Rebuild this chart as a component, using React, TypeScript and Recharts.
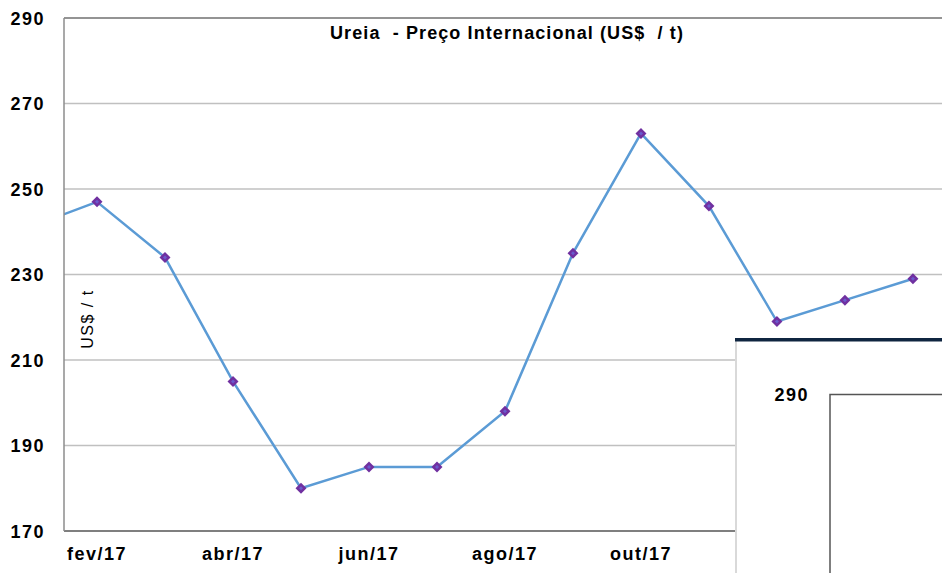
import React from "react";
import { LineChart, Line, XAxis, YAxis, CartesianGrid, ReferenceLine } from "recharts";

const months = ["jan/17", "fev/17", "mar/17", "abr/17", "mai/17", "jun/17", "jul/17", "ago/17", "set/17", "out/17", "nov/17", "dez/17", "jan/18", "fev/18"];
const prices = [241, 247, 234, 205, 180, 185, 185, 198, 235, 263, 246, 219, 224, 229];
const yTicks = [170, 190, 210, 230, 250, 270, 290];
const xTickIdx = [1, 3, 5, 7, 9, 11, 13];
const title = "Ureia  - Preço Internacional (US$  / t)";
const yLabel = "US$ / t";
const insetTick = "290";

const data = months.map((m, i) => ({ idx: i, month: m, price: prices[i] }));

const FONT = "'Liberation Sans', Arial, Helvetica, sans-serif";

const YTick = (props: any) => {
  const { x, y, payload } = props;
  return (
    <text x={x} y={y} dy={6.5} textAnchor="end" fontFamily={FONT} fontSize={18} fontWeight="bold" fill="#000" letterSpacing={1.5}>
      {payload.value}
    </text>
  );
};

const XTick = (props: any) => {
  const { x, y, payload } = props;
  return (
    <text x={x} y={y} dy={13} textAnchor="middle" fontFamily={FONT} fontSize={18} fontWeight="bold" fill="#000" letterSpacing={1.5}>
      {months[payload.value]}
    </text>
  );
};

const Diamond = (props: any) => {
  const { cx, cy, index } = props;
  if (cx == null || cy == null) return <g key={`d-${index}`} />;
  const r = 5.5;
  const r2 = 2;
  return (
    <g key={`d-${index}`}>
      <path d={`M${cx},${cy - r}L${cx + r},${cy}L${cx},${cy + r}L${cx - r},${cy}Z`} fill="#7030a0" />
      <path d={`M${cx},${cy - r2}L${cx + r2},${cy}L${cx},${cy + r2}L${cx - r2},${cy}Z`} fill="#6a5acd" />
    </g>
  );
};

export default function App() {
  return (
    <div style={{ position: "absolute", left: 0, top: 0, width: 942, height: 573, overflow: "hidden", background: "#fff" }}>
      <LineChart width={942} height={573} data={data} margin={{ top: 18, right: 0, bottom: 12, left: 0 }}>
        <CartesianGrid vertical={false} stroke="#c0c0c0" strokeWidth={1.5} />
        <XAxis
          type="number"
          dataKey="idx"
          domain={[0.515, 13.427]}
          allowDataOverflow
          ticks={xTickIdx}
          tick={<XTick />}
          tickLine={false}
          tickSize={0}
          tickMargin={16}
          height={30}
          axisLine={{ stroke: "#7f7f7f", strokeWidth: 2 }}
          interval={0}
        />
        <YAxis
          type="number"
          domain={[170, 290]}
          ticks={yTicks}
          tick={<YTick />}
          tickLine={false}
          tickSize={0}
          tickMargin={19}
          width={64}
          axisLine={{ stroke: "#8c8c8c", strokeWidth: 1.5 }}
          interval={0}
        />
        <ReferenceLine y={290} stroke="#808080" strokeWidth={1.5} />
        <Line
          type="linear"
          dataKey="price"
          stroke="#5b9bd5"
          strokeWidth={2.5}
          dot={<Diamond />}
          activeDot={false}
          isAnimationActive={false}
        />
      </LineChart>
      <svg width={942} height={573} style={{ position: "absolute", left: 0, top: 0, pointerEvents: "none" }}>
        <text x={507} y={39} textAnchor="middle" fontFamily={FONT} fontSize={18} fontWeight="bold" fill="#000" letterSpacing={1.1} style={{ whiteSpace: "pre" }}>
          {title}
        </text>
        <text x={93} y={319} textAnchor="middle" fontFamily={FONT} fontSize={16} fill="#000" letterSpacing={1.5} transform="rotate(-90 93 319)">
          {yLabel}
        </text>
        <rect x={735} y={341} width={207} height={232} fill="#fff" />
        <rect x={735} y={341} width={2} height={232} fill="#d9d9d9" />
        <rect x={735} y={338} width={207} height={3.5} fill="#0f2540" />
        <text x={809} y={401} textAnchor="end" fontFamily={FONT} fontSize={18} fontWeight="bold" fill="#000" letterSpacing={1.5}>
          {insetTick}
        </text>
        <path d="M830,573L830,394.5L942,394.5" fill="none" stroke="#555" strokeWidth={1.5} />
      </svg>
    </div>
  );
}
